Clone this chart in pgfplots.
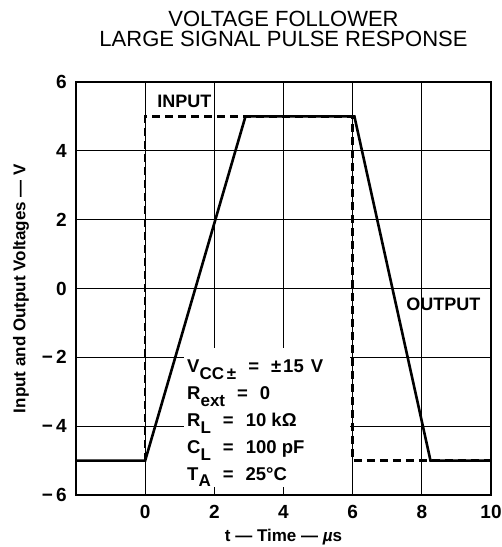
\documentclass[border=0pt]{standalone}
\usepackage{fontspec}
\setmainfont{Liberation Sans}
\usepackage{pgfplots}
\pgfplotsset{compat=1.18}
\newcommand\sub[1]{\raisebox{-0.36em}{\fontsize{17}{17}\selectfont #1}}
\newcommand\eq{\hspace{12pt}=\hspace{12pt}}
\begin{document}
\begin{tikzpicture}
\begin{axis}[
  scale only axis,
  width=415pt, height=413pt,
  xmin=-2, xmax=10, ymin=-6, ymax=6,
  xtick={-2,0,2,4,6,8,10},
  xticklabels={,0,2,4,6,8,10},
  ytick={-6,-4,-2,0,2,4,6},
  yticklabels={−\,6,−\,4,−\,2,0,2,4,6},
  /pgf/number format/assume math mode=true,
  ticklabel style={font=\fontsize{19}{19}\selectfont\bfseries},
  xticklabel style={anchor=base, yshift=-23pt, inner sep=0pt},
  yticklabel style={anchor=east, xshift=-9pt, inner sep=0pt},
  tick align=inside,
  major tick length=7pt,
  tick style={black, line width=0.8pt},
  grid=major,
  major grid style={black, line width=0.8pt},
  axis line style={black, line width=1.3pt},
  clip=false,
]
\fill[white] (axis cs:1.13,-1.73) rectangle (axis cs:5.93,-5.77);
\addplot[black, dash pattern=on 8pt off 5pt, line width=2.5pt] coordinates {
  (0,-5) (0,5) (6,5) (6,-5) (10,-5)
};
\addplot[black, line width=2.6pt] coordinates {
  (-2,-5) (0,-5) (2.9,5) (6.05,5) (8.25,-5) (10,-5)
};
\node[anchor=base west, inner sep=0pt, font=\fontsize{18}{18}\selectfont\bfseries] at (axis cs:0.35,5.27) {INPUT};
\node[anchor=base west, inner sep=0pt, font=\fontsize{18}{18}\selectfont\bfseries] at (axis cs:7.55,-0.63) {OUTPUT};
\begin{scope}[every node/.style={anchor=base west, inner sep=0pt, font=\fontsize{18.5}{18.5}\selectfont\bfseries}]
\node at (axis cs:1.21,-2.45) {V\sub{CC\,±}\eq±\hspace{2pt}15\hspace{7pt}V};
\node at (axis cs:1.21,-3.23) {R\sub{ext}\eq0};
\node at (axis cs:1.21,-4.01) {R\sub{L}\eq10 kΩ};
\node at (axis cs:1.21,-4.79) {C\sub{L}\eq100 pF};
\node at (axis cs:1.21,-5.57) {T\sub{A}\eq25°C};
\end{scope}
\end{axis}
\node[anchor=base, font=\fontsize{22}{22}\selectfont] at ([yshift=55.5pt]current axis.north) {VOLTAGE FOLLOWER};
\node[anchor=base, font=\fontsize{22}{22}\selectfont] at ([yshift=35pt]current axis.north) {LARGE SIGNAL PULSE RESPONSE};
\node[anchor=base, font=\fontsize{17}{17}\selectfont\bfseries] at ([yshift=-46pt]current axis.south) {t — Time — \textit{µ}s};
\node[rotate=90, anchor=center, font=\fontsize{17}{17}\selectfont\bfseries] at ([xshift=-55pt]current axis.west) {Input and Output Voltages — V};
\pgfresetboundingbox
\path[use as bounding box] ([xshift=-76pt,yshift=-52pt]current axis.south west) rectangle ([xshift=10pt,yshift=82pt]current axis.north east);
\end{tikzpicture}
\end{document}
